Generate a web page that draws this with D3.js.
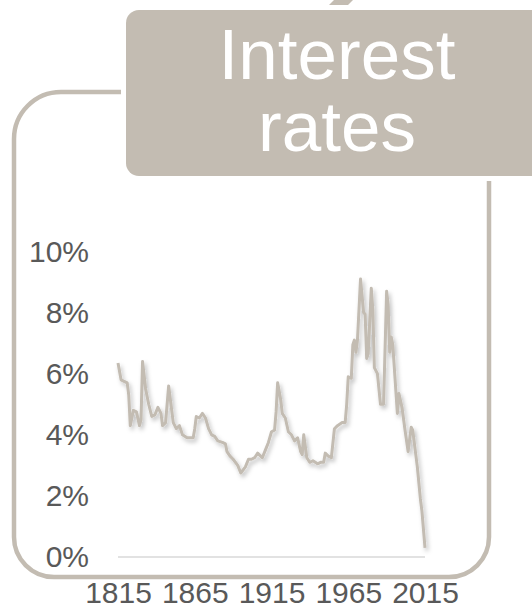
<!DOCTYPE html>
<html>
<head>
<meta charset="utf-8">
<script src="https://cdn.jsdelivr.net/npm/d3@7"></script>
<style>
  html, body { margin: 0; padding: 0; background: #fff; }
  svg { display: block; font-family: "Liberation Sans", Arial, sans-serif; }
</style>
</head>
<body>
<svg id="chart" width="532" height="609"></svg>
<script>
// Long-run interest rate, % per year
const years = [
  1815, 1817, 1819, 1821, 1822, 1823, 1825, 1827, 1829, 1830,
  1831, 1833, 1835, 1837, 1839, 1841, 1843, 1844, 1846, 1848,
  1850, 1851, 1853, 1855, 1857, 1860, 1864, 1865, 1866, 1868,
  1870, 1872, 1874, 1876, 1878, 1880, 1883, 1885, 1886, 1888,
  1890, 1893, 1895, 1898, 1900, 1902, 1904, 1906, 1909, 1911,
  1913, 1915, 1917, 1918, 1919, 1921, 1922, 1924, 1926, 1928,
  1930, 1932, 1934, 1935, 1936, 1938, 1940, 1942, 1945, 1947,
  1949, 1950, 1952, 1954, 1956, 1958, 1961, 1963, 1964, 1965,
  1967, 1968, 1969, 1970, 1971, 1973, 1975, 1976, 1977, 1978,
  1980, 1981, 1982, 1984, 1986, 1988, 1990, 1991, 1992, 1993,
  1994, 1997, 1998, 2000, 2002, 2004, 2006, 2007, 2010, 2012,
  2013, 2015
];
const rates = [
  6.35, 5.8, 5.75, 5.7, 5.3, 4.3, 4.8, 4.75, 4.3, 4.5,
  6.4, 5.5, 5.0, 4.6, 4.65, 4.9, 4.7, 4.3, 4.4, 5.6,
  4.8, 4.4, 4.2, 4.3, 4.0, 3.9, 3.9, 4.2, 4.6, 4.55,
  4.7, 4.55, 4.2, 4.0, 3.95, 3.8, 3.75, 3.7, 3.45, 3.3,
  3.2, 3.0, 2.75, 2.95, 3.2, 3.2, 3.25, 3.4, 3.25, 3.5,
  3.75, 4.1, 4.15, 4.75, 5.7, 5.15, 4.7, 4.55, 4.1, 4.0,
  3.8, 3.9, 3.45, 3.35, 4.0, 3.25, 3.1, 3.15, 3.05, 3.1,
  3.1, 3.4, 3.3, 3.25, 4.2, 4.3, 4.4, 4.4, 5.0, 5.9,
  5.85, 6.95, 7.1, 6.7, 7.1, 9.1, 8.0, 7.95, 6.5, 6.65,
  8.8, 8.1, 6.2, 6.0, 5.0, 5.0, 8.7, 8.25, 6.7, 7.2,
  6.95, 4.7, 5.35, 4.9, 4.15, 3.45, 4.25, 4.15, 2.95, 1.9,
  1.5, 0.3
];
const yTicks = [0, 2, 4, 6, 8, 10];
const xTicks = [1815, 1865, 1915, 1965, 2015];
const titleLines = ["Interest", "rates"];

const beige = "#c3bcb2";
const labelGrey = "#595959";

const svg = d3.select("#chart");

const defs = svg.append("defs");
const shadow = defs.append("filter").attr("id", "lineShadow")
  .attr("x", "-10%").attr("y", "-10%").attr("width", "130%").attr("height", "130%");
shadow.append("feDropShadow")
  .attr("dx", 2).attr("dy", 3).attr("stdDeviation", 2.2)
  .attr("flood-color", "#000").attr("flood-opacity", 0.25);

// Rounded frame around the plot
const fx0 = 14, fy0 = 92, fx1 = 489, fy1 = 577;
const rTL = 47, rBL = 40, rBR = 40;
const frame = d3.path();
frame.moveTo(fx1, fy0);
frame.lineTo(fx0 + rTL, fy0);
frame.arcTo(fx0, fy0, fx0, fy0 + rTL, rTL);
frame.lineTo(fx0, fy1 - rBL);
frame.arcTo(fx0, fy1, fx0 + rBL, fy1, rBL);
frame.lineTo(fx1 - rBR, fy1);
frame.arcTo(fx1, fy1, fx1, fy1 - rBR, rBR);
frame.lineTo(fx1, fy0);
svg.append("path").attr("d", frame.toString())
  .attr("fill", "none").attr("stroke", beige).attr("stroke-width", 4.5);

// Fragment of the decoration above the title box
svg.append("polygon")
  .attr("points", "334,0 353,0 348,5 329,5")
  .attr("fill", beige);

// Title box
svg.append("rect")
  .attr("x", 126).attr("y", 10).attr("width", 430).attr("height", 166)
  .attr("rx", 13).attr("ry", 13)
  .attr("fill", beige).attr("stroke", "#fff").attr("stroke-width", 10)
  .attr("paint-order", "stroke");

svg.append("g").selectAll("text").data(titleLines).join("text")
  .attr("x", 337).attr("y", (d, i) => 79 + i * 72)
  .attr("text-anchor", "middle")
  .attr("fill", "#fff")
  .attr("font-size", 71)
  .text(d => d);

// Scales
const x = d3.scaleLinear().domain([1815, 2015]).range([118, 425]);
const y = d3.scaleLinear().domain([0, 10]).range([557, 251.5]);

// Y axis labels
const yAxis = svg.append("g").attr("transform", "translate(89,0)")
  .call(d3.axisLeft(y).tickValues(yTicks).tickSize(0).tickPadding(0)
    .tickFormat(d => d + "%"));
yAxis.select(".domain").remove();
yAxis.selectAll("text").attr("fill", labelGrey)
  .attr("font-size", 30).attr("font-family", "Liberation Sans, Arial, sans-serif");

// Baseline at 0%
svg.append("line")
  .attr("x1", x(1815)).attr("x2", x(2015))
  .attr("y1", y(0)).attr("y2", y(0))
  .attr("stroke", "#d9d9d9").attr("stroke-width", 1.5);

// X axis labels
const xAxis = svg.append("g").attr("transform", "translate(0,581.5)")
  .call(d3.axisBottom(x).tickValues(xTicks).tickSize(0).tickPadding(0)
    .tickFormat(d3.format("d")));
xAxis.select(".domain").remove();
xAxis.selectAll("text").attr("fill", labelGrey)
  .attr("font-size", 30).attr("dy", "0.71em")
  .attr("font-family", "Liberation Sans, Arial, sans-serif");

// Rate line
const line = d3.line().x((d, i) => x(years[i])).y(d => y(d));
svg.append("path")
  .datum(rates)
  .attr("d", line)
  .attr("fill", "none")
  .attr("stroke", beige)
  .attr("stroke-width", 3)
  .attr("stroke-linejoin", "round")
  .attr("filter", "url(#lineShadow)");
</script>
</body>
</html>
